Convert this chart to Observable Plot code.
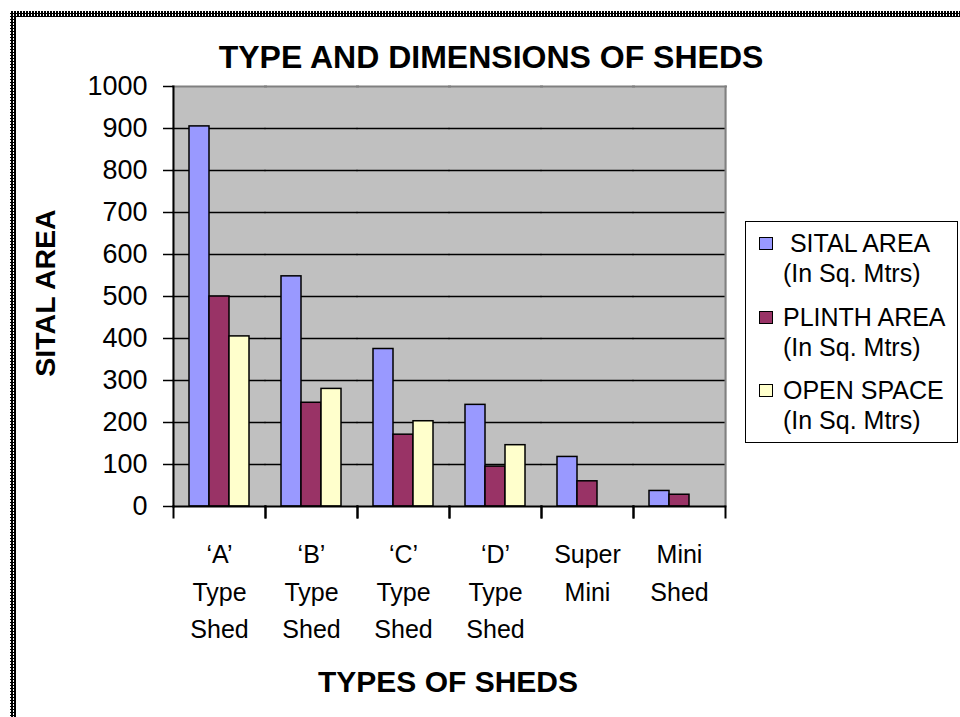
<!DOCTYPE html>
<html>
<head>
<meta charset="utf-8">
<script src="https://cdn.jsdelivr.net/npm/d3@7"></script>
<script src="https://cdn.jsdelivr.net/npm/@observablehq/plot@0.6"></script>
<style>
  body { margin: 0; background: #fff; font-family: "Liberation Sans", Arial, sans-serif; }
  #wrap { position: relative; width: 960px; height: 717px; overflow: hidden; background: #fff; }
  #wrap svg { position: absolute; left: 0; top: 0; }
  .border-top { position: absolute; left: 10px; top: 11px; right: 0; height: 6px;
    background: repeating-conic-gradient(#000 0 75%, #fff 0 100%) 0 0 / 3px 3px; }
  .border-left { position: absolute; left: 10px; top: 11px; bottom: 0; width: 6px;
    background: repeating-conic-gradient(#000 0 75%, #fff 0 100%) 0 0 / 3px 3px; }
  .title { position: absolute; left: 491px; top: 41px; transform: translateX(-50%);
    font-weight: bold; font-size: 32px; line-height: 1; white-space: nowrap; color: #000; }
  .xtitle { position: absolute; left: 448px; top: 667px; transform: translateX(-50%);
    font-weight: bold; font-size: 30px; line-height: 1; white-space: nowrap; color: #000; }
  .ytitle { position: absolute; left: 45px; top: 293px; transform: translate(-50%, -50%) rotate(-90deg);
    font-weight: bold; font-size: 28.5px; line-height: 1; white-space: nowrap; color: #000; }
  .legend { position: absolute; left: 745px; top: 221px; width: 213px; height: 222px;
    border: 1.5px solid #000; background: #fff; box-sizing: border-box; }
  .item { position: absolute; left: 0; width: 100%; font-size: 25px; line-height: 32px; color: #000; }
  .item .sw { position: absolute; left: 13px; top: 10px; width: 14px; height: 13px;
    border: 1.5px solid #000; box-sizing: border-box; }
  .item .tx { position: absolute; left: 37px; top: 0; white-space: nowrap; }
</style>
</head>
<body>
<div id="wrap"></div>
<script>
// ---- data ----
const categories = ["‘A’ Type Shed", "‘B’ Type Shed", "‘C’ Type Shed", "‘D’ Type Shed", "Super Mini", "Mini Shed"];
const seriesNames = ["SITAL AREA (In Sq. Mtrs)", "PLINTH AREA (In Sq. Mtrs)", "OPEN SPACE (In Sq. Mtrs)"];
const sitalArea  = [905, 548, 375, 242, 118, 37];
const plinthArea = [500, 247, 171, 95, 60, 28];
const openSpace  = [405, 280, 203, 146, null, null];
const seriesColors = ["#9999FF", "#993366", "#FFFFCC"];
const yTicks = [0, 100, 200, 300, 400, 500, 600, 700, 800, 900, 1000];
const chartTitle = "TYPE AND DIMENSIONS OF SHEDS";
const xTitle = "TYPES OF SHEDS";
const yTitle = "SITAL AREA";

const seriesValues = [sitalArea, plinthArea, openSpace];
const data = [];
categories.forEach((c, i) => {
  seriesNames.forEach((s, j) => {
    const v = seriesValues[j][i];
    if (v != null) data.push({category: c, series: s, value: v});
  });
});

const W = 960, H = 717;
const mL = 173, mR = 235, mT = 86, mB = 211;
const plotH = H - mT - mB;

const chart = Plot.plot({
  width: W, height: H,
  marginLeft: mL, marginRight: mR, marginTop: mT, marginBottom: mB,
  style: {fontFamily: "'Liberation Sans', Arial, sans-serif", fontSize: "27px", color: "#000", background: "transparent", overflow: "visible"},
  fx: {domain: categories, padding: 0},
  x: {domain: seriesNames, paddingInner: 0, paddingOuter: 0.75, axis: null},
  y: {domain: [0, 1000]},
  color: {domain: seriesNames, range: seriesColors},
  marks: [
    Plot.frame({fill: "#C0C0C0", stroke: "#C0C0C0", strokeWidth: 1, insetLeft: -0.5, insetRight: -0.5}),
    Plot.ruleY(yTicks.filter(d => d > 0 && d < 1000), {stroke: "#000", strokeWidth: 1.3, insetLeft: -0.5, insetRight: -0.5}),
    Plot.frame({anchor: "top", stroke: "#808080", strokeWidth: 2, insetLeft: -0.5, insetRight: -0.5}),
    Plot.frame({anchor: "right", stroke: "#808080", strokeWidth: 2, facetAnchor: "right"}),
    Plot.barY(data, {fx: "category", x: "series", y: "value", fill: "series", stroke: "#000", strokeWidth: 1.5}),
    Plot.ruleY([0], {stroke: "#000", strokeWidth: 2, insetLeft: -0.5, insetRight: -0.5}),
    Plot.frame({anchor: "left", stroke: "#000", strokeWidth: 2, facetAnchor: "left"}),
    Plot.frame({anchor: "left", insetTop: plotH, insetBottom: -11, stroke: "#000", strokeWidth: 2}),
    Plot.frame({anchor: "right", insetTop: plotH, insetBottom: -11, stroke: "#000", strokeWidth: 2}),
    Plot.axisY({ticks: yTicks, tickFormat: d => String(d), tickSize: 10, tickPadding: 16, strokeWidth: 1.5, fontSize: 27, label: null}),
    Plot.axisFx({anchor: "bottom", tickSize: 0, tickPadding: 30, fontSize: 25, lineHeight: 1.5,
      tickFormat: d => d.replace(/ /g, "\n"), label: null})
  ]
});

const wrap = document.getElementById("wrap");
wrap.appendChild(chart);

function addDiv(cls, text) {
  const d = document.createElement("div");
  d.className = cls;
  if (text != null) d.textContent = text;
  wrap.appendChild(d);
  return d;
}
addDiv("border-top");
addDiv("border-left");
addDiv("title", chartTitle);
addDiv("xtitle", xTitle);
addDiv("ytitle", yTitle);

const legend = addDiv("legend");
seriesNames.forEach((s, j) => {
  const item = document.createElement("div");
  item.className = "item";
  item.style.top = (5 + j * 73.5) + "px";
  const sw = document.createElement("div");
  sw.className = "sw";
  sw.style.background = seriesColors[j];
  const tx = document.createElement("div");
  tx.className = "tx";
  const k = s.indexOf(" (");
  const line1 = (j === 0 ? "\u00a0" : "") + s.slice(0, k);
  const line2 = s.slice(k + 1);
  const l1 = document.createElement("div"); l1.textContent = line1;
  const l2 = document.createElement("div"); l2.textContent = line2;
  l2.style.marginTop = "-2px";
  tx.appendChild(l1); tx.appendChild(l2);
  item.appendChild(sw); item.appendChild(tx);
  legend.appendChild(item);
});
</script>
</body>
</html>
